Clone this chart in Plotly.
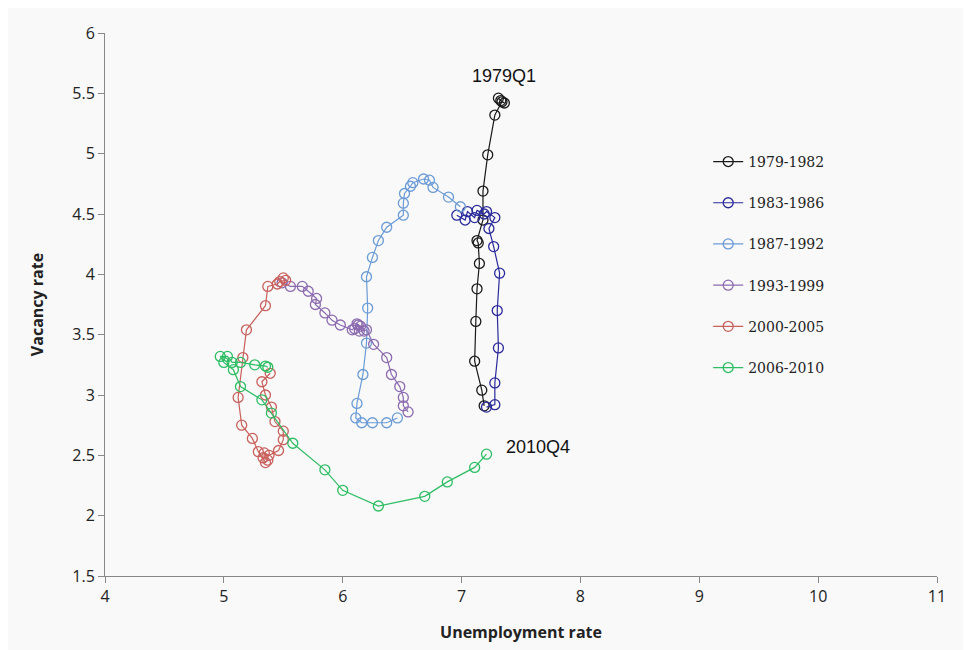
import plotly.graph_objects as go

names = ["1979-1982", "1983-1986", "1987-1992", "1993-1999", "2000-2005", "2006-2010"]
colors = ["#1a1a1a", "#2a2a9c", "#6b9bd6", "#8c6bb0", "#c9605c", "#2dbd63"]

u_7982 = [7.31, 7.33, 7.36, 7.34, 7.28, 7.22, 7.18, 7.18, 7.13, 7.14, 7.15, 7.13, 7.12, 7.11, 7.17, 7.19]
v_7982 = [5.46, 5.44, 5.42, 5.43, 5.32, 4.99, 4.69, 4.45, 4.28, 4.26, 4.09, 3.88, 3.61, 3.28, 3.04, 2.91]

u_8386 = [7.21, 7.28, 7.28, 7.31, 7.30, 7.32, 7.27, 7.23, 7.28, 7.21, 7.19, 7.13, 7.11, 7.05, 7.03, 6.96]
v_8386 = [2.90, 2.92, 3.10, 3.39, 3.70, 4.01, 4.23, 4.38, 4.47, 4.52, 4.50, 4.53, 4.47, 4.52, 4.45, 4.49]

u_8792 = [6.99, 6.89, 6.76, 6.73, 6.68, 6.59, 6.57, 6.52, 6.51, 6.51, 6.37, 6.30, 6.25, 6.20,
          6.21, 6.20, 6.17, 6.12, 6.11, 6.16, 6.25, 6.37, 6.46]
v_8792 = [4.56, 4.64, 4.72, 4.78, 4.79, 4.76, 4.73, 4.67, 4.59, 4.49, 4.39, 4.28, 4.14, 3.98,
          3.72, 3.43, 3.17, 2.93, 2.81, 2.77, 2.77, 2.77, 2.81]

u_9399 = [6.55, 6.51, 6.51, 6.48, 6.41, 6.37, 6.26, 6.20, 6.18, 6.15, 6.12, 6.10, 6.14, 6.13,
          6.08, 5.98, 5.91, 5.85, 5.77, 5.78, 5.71, 5.66, 5.56, 5.49]
v_9399 = [2.86, 2.91, 2.98, 3.07, 3.17, 3.31, 3.42, 3.54, 3.53, 3.57, 3.59, 3.55, 3.53, 3.58,
          3.54, 3.58, 3.62, 3.68, 3.75, 3.80, 3.86, 3.90, 3.90, 3.93]

u_0005 = [5.50, 5.52, 5.47, 5.45, 5.37, 5.35, 5.19, 5.16, 5.12, 5.15, 5.24, 5.29, 5.33, 5.35,
          5.37, 5.34, 5.38, 5.46, 5.50, 5.50, 5.43, 5.40, 5.35, 5.32, 5.39]
v_0005 = [3.97, 3.95, 3.94, 3.92, 3.90, 3.74, 3.54, 3.31, 2.98, 2.75, 2.64, 2.53, 2.48, 2.44,
          2.46, 2.52, 2.50, 2.54, 2.63, 2.70, 2.78, 2.90, 3.00, 3.11, 3.18]

u_0610 = [5.37, 5.35, 5.26, 5.14, 5.07, 5.03, 4.97, 5.00, 5.08, 5.14, 5.32, 5.40, 5.58, 5.85,
          6.00, 6.30, 6.69, 6.88, 7.11, 7.21]
v_0610 = [3.23, 3.24, 3.25, 3.27, 3.27, 3.32, 3.32, 3.27, 3.21, 3.07, 2.96, 2.85, 2.60, 2.38,
          2.21, 2.08, 2.16, 2.28, 2.40, 2.51]

xs = [u_7982, u_8386, u_8792, u_9399, u_0005, u_0610]
ys = [v_7982, v_8386, v_8792, v_9399, v_0005, v_0610]

x_ticks = [4, 5, 6, 7, 8, 9, 10, 11]
y_ticks = [1.5, 2, 2.5, 3, 3.5, 4, 4.5, 5, 5.5, 6]

fig = go.Figure()
for n, c, x, y in zip(names, colors, xs, ys):
    fig.add_trace(go.Scatter(
        x=x, y=y, name=n, mode="lines+markers", legendgroup=n,
        line=dict(color=c, width=1.2),
        marker=dict(symbol="circle-open", size=10, color=c, line=dict(width=1.3, color=c)),
    ))

fig.add_annotation(x=7.36, y=5.64, text="1979Q1", showarrow=False,
                   font=dict(family="Liberation Sans, Arial", size=18, color="#111"))
fig.add_annotation(x=7.64, y=2.57, text="2010Q4", showarrow=False,
                   font=dict(family="Liberation Sans, Arial", size=18, color="#111"))

axis_common = dict(showgrid=False, zeroline=False, showline=True, linecolor="#888",
                   linewidth=1, ticks="outside", tickcolor="#888", ticklen=6,
                   tickfont=dict(family="Open Sans, Noto Sans, Arial", size=16, color="#222"))

fig.update_layout(
    width=963, height=642,
    margin=dict(l=97, r=34, t=25, b=74),
    paper_bgcolor="#f9f9f9", plot_bgcolor="#f9f9f9",
    xaxis=dict(range=[4, 11], tickvals=x_ticks, ticktext=[str(t) for t in x_ticks],
               title=dict(text="<b>Unemployment rate</b>", standoff=20,
                          font=dict(family="Open Sans, Noto Sans, Arial", size=16, color="#222")),
               **axis_common),
    yaxis=dict(range=[1.5, 6], tickvals=y_ticks, ticktext=[str(t) for t in y_ticks],
               title=dict(text="<b>Vacancy rate</b>", standoff=24,
                          font=dict(family="Open Sans, Noto Sans, Arial", size=16, color="#222")),
               **axis_common),
    legend=dict(x=0.725, y=0.792, xanchor="left", yanchor="top",
                bgcolor="rgba(0,0,0,0)", tracegroupgap=20,
                font=dict(family="DejaVu Serif, Liberation Serif", size=14, color="#222")),
    showlegend=True,
)

fig.write_html("out.html")
